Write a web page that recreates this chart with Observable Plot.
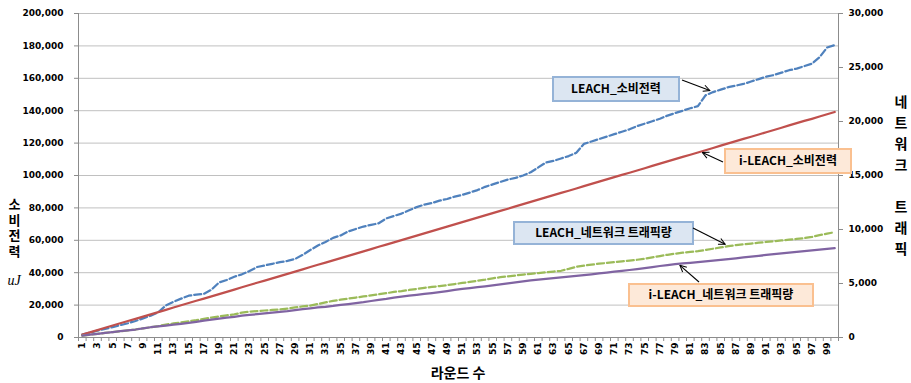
<!DOCTYPE html>
<html><head><meta charset="utf-8">
<script src="https://cdn.jsdelivr.net/npm/d3@7"></script>
<script src="https://cdn.jsdelivr.net/npm/@observablehq/plot@0.6"></script>
<style>
html,body{margin:0;padding:0;background:#fff;}
</style>
</head><body><div id="chart"></div>
<script>
// ---- data ----
const rounds = Array.from({length: 100}, (_, i) => i + 1);
const oddRounds = rounds.filter(r => r % 2 === 1);

const leachPower = [
  1800, 3000, 4200, 5300, 6400, 7600, 8800, 10200, 11800, 13500,
  15500, 19800, 22000, 24000, 25800, 26500, 27000, 29500, 34000, 35500,
  37500, 39000, 41000, 43500, 44500, 45500, 46500, 47300, 48500, 51000,
  54000, 56800, 59000, 61500, 63000, 65500, 67000, 68500, 69500, 70500,
  73500, 75000, 76500, 78500, 80500, 82000, 83000, 84500, 85500, 87000,
  88000, 89500, 91000, 93000, 94500, 96000, 97500, 98500, 100000, 102000,
  105000, 108000, 109000, 110500, 112000, 114000, 119500, 121000, 122500, 124000,
  125500, 127000, 128500, 130500, 132000, 133500, 135000, 137000, 138500, 140000,
  141500, 142800, 149500, 151500, 153000, 154500, 155500, 156500, 158000, 159500,
  161000, 162000, 163500, 165000, 166000, 167500, 169000, 173000, 179000, 180500
];
const iLeachPower = [
  1800, 3200, 4600, 6000, 7400, 8800, 10200, 11500, 12900, 14300,
  15700, 17100, 18500, 19900, 21300, 22700, 24000, 25400, 26800, 28200,
  29600, 31000, 32400, 33800, 35100, 36500, 37900, 39300, 40700, 42100,
  43500, 44900, 46200, 47600, 49000, 50400, 51800, 53200, 54600, 56000,
  57300, 58700, 60100, 61500, 62900, 64300, 65700, 67100, 68400, 69800,
  71200, 72600, 74000, 75400, 76800, 78200, 79500, 80900, 82300, 83700,
  85100, 86500, 87900, 89300, 90600, 92000, 93400, 94800, 96200, 97600,
  99000, 100400, 101700, 103100, 104500, 105900, 107300, 108700, 110100, 111500,
  112800, 114200, 115600, 117000, 118400, 119800, 121200, 122600, 123900, 125300,
  126700, 128100, 129500, 130900, 132300, 133700, 135000, 136400, 137800, 139200
];
const leachTraffic = [
  180, 260, 340, 420, 500, 580, 660, 740, 850, 950,
  1050, 1200, 1300, 1400, 1500, 1600, 1720, 1850, 1950, 2050,
  2150, 2300, 2400, 2450, 2500, 2550, 2600, 2680, 2780, 2880,
  2960, 3100, 3250, 3400, 3500, 3600, 3700, 3800, 3900, 4000,
  4100, 4220, 4300, 4400, 4500, 4600, 4680, 4760, 4850, 4950,
  5050, 5150, 5250, 5350, 5480, 5580, 5660, 5740, 5820, 5890,
  5970, 6040, 6110, 6180, 6350, 6550, 6650, 6750, 6830, 6900,
  6980, 7050, 7120, 7200, 7300, 7420, 7540, 7660, 7760, 7850,
  7930, 8000, 8100, 8220, 8340, 8460, 8550, 8620, 8700, 8780,
  8850, 8920, 8990, 9060, 9130, 9200, 9320, 9480, 9620, 9750
];
const iLeachTraffic = [
  180, 260, 340, 420, 500, 580, 660, 740, 850, 950,
  1030, 1110, 1190, 1270, 1350, 1450, 1560, 1650, 1740, 1830,
  1920, 2020, 2090, 2160, 2230, 2300, 2370, 2440, 2530, 2620,
  2700, 2780, 2840, 2920, 3030, 3100, 3180, 3270, 3380, 3480,
  3580, 3700, 3790, 3870, 3950, 4030, 4110, 4200, 4300, 4400,
  4500, 4580, 4660, 4740, 4830, 4920, 5010, 5100, 5190, 5290,
  5360, 5420, 5490, 5560, 5640, 5710, 5780, 5850, 5930, 6010,
  6090, 6170, 6250, 6340, 6430, 6520, 6620, 6710, 6790, 6860,
  6920, 6980, 7050, 7110, 7180, 7260, 7330, 7410, 7480, 7560,
  7640, 7710, 7780, 7850, 7920, 7990, 8060, 8130, 8200, 8270
];
const leftTicks = [0, 20000, 40000, 60000, 80000, 100000, 120000, 140000, 160000, 180000, 200000];
const rightTicks = [0, 5000, 10000, 15000, 20000, 25000, 30000];

const seriesNames = ["LEACH_소비전력", "i-LEACH_소비전력", "LEACH_네트워크 트래픽량", "i-LEACH_네트워크 트래픽량"];
const xTitle = "라운드 수";
const yLeftTitle = "소비전력";
const yLeftUnit = "uJ";
const yRightTitle = "네트워크 트래픽";

// ---- build ----
const leftMax = d3.max(leftTicks), rightMax = d3.max(rightTicks);
const k = leftMax / rightMax;
const xDomain = [rounds[0] - 0.5, rounds[rounds.length - 1] + 0.5];
const boundaries = rounds.map(r => r - 0.5).concat([xDomain[1]]);

function rows(values, factor) {
  return rounds.map((r, i) => ({round: r, y: values[i] * factor}));
}
const fmt = d3.format(",");

const chart = Plot.plot({
  width: 911, height: 383,
  marginLeft: 78, marginRight: 73, marginTop: 13, marginBottom: 46,
  style: {fontFamily: "DejaVu Sans", fontSize: "9px", fontWeight: "bold", color: "#000", background: "#fff", overflow: "visible"},
  x: {domain: xDomain, label: null},
  y: {domain: [0, leftMax], label: null},
  marks: [
    Plot.gridY(leftTicks, {stroke: "#c0c0c0", strokeOpacity: 1}),
    Plot.ruleX(xDomain, {stroke: "#8c8c8c"}),
    Plot.ruleY([0], {stroke: "#8c8c8c"}),
    Plot.axisX(boundaries, {tickSize: 4, tickFormat: () => "", stroke: "#8c8c8c", label: null}),
    Plot.axisX(oddRounds, {tickSize: 0, tickRotate: -90, tickPadding: 5, tickFormat: d => String(d), label: null}),
    Plot.axisY(leftTicks, {tickSize: 4, tickPadding: 11, tickFormat: fmt, stroke: "#8c8c8c", label: null}),
    Plot.axisY(rightTicks.map(v => v * k), {anchor: "right", tickSize: 4, tickPadding: 6, stroke: "#8c8c8c",
      tickFormat: v => fmt(Math.round(v / k)), label: null}),
    Plot.line(rows(leachPower, 1), {x: "round", y: "y", stroke: "#4f81bd", strokeWidth: 2.25, strokeDasharray: "7,3"}),
    Plot.line(rows(iLeachPower, 1), {x: "round", y: "y", stroke: "#c0504d", strokeWidth: 2.25}),
    Plot.line(rows(leachTraffic, k), {x: "round", y: "y", stroke: "#9bbb59", strokeWidth: 2.25, strokeDasharray: "7,3"}),
    Plot.line(rows(iLeachTraffic, k), {x: "round", y: "y", stroke: "#8064a2", strokeWidth: 2.25})
  ]
});
document.getElementById("chart").appendChild(chart);

// ---- titles & annotations ----
const svg = d3.select(chart);
const xs = chart.scale("x"), ys = chart.scale("y");
const kr = "'Noto Sans CJK KR', 'Noto Sans', sans-serif";

svg.append("text").attr("x", (xs.apply(xDomain[0]) + xs.apply(xDomain[1])) / 2).attr("y", 378)
  .attr("text-anchor", "middle").attr("font-family", kr).attr("font-size", 14).attr("font-weight", "bold")
  .attr("fill", "#000").text(xTitle);

// vertical (top-to-bottom) single text elements
function verticalText(str, x, yTop, size, spacing) {
  svg.append("text").attr("x", x).attr("y", yTop)
    .attr("font-family", kr).attr("font-size", size).attr("font-weight", "bold").attr("fill", "#000")
    .attr("text-anchor", "start")
    .style("writing-mode", "vertical-rl").style("text-orientation", "upright")
    .style("letter-spacing", spacing + "px")
    .text(str);
}
verticalText(yLeftTitle, 14.5, 198, 13, 2.5);
svg.append("text").attr("x", 14).attr("y", 285).attr("text-anchor", "middle")
  .attr("font-family", "'Liberation Serif', serif").attr("font-style", "italic").attr("font-weight", "normal")
  .attr("font-size", 14).attr("fill", "#000").text(yLeftUnit);
verticalText(yRightTitle, 901, 95, 14, 7);

const defs = svg.append("defs");
defs.append("marker").attr("id", "arr").attr("viewBox", "0 0 10 10").attr("refX", 9).attr("refY", 5)
  .attr("markerWidth", 8).attr("markerHeight", 8).attr("markerUnits", "userSpaceOnUse").attr("orient", "auto")
  .append("path").attr("d", "M1,1 L9,5 L1,9").attr("fill", "none").attr("stroke", "#000").attr("stroke-width", 1.3);

const themes = {
  blue: {fill: "#dce6f2", stroke: "#95b3d7"},
  orange: {fill: "#fde9d9", stroke: "#fac090"}
};
const notes = [
  {label: seriesNames[0], values: leachPower, factor: 1, at: 84, box: [553, 77, 126, 24], tail: [682, 80], theme: "blue"},
  {label: seriesNames[1], values: iLeachPower, factor: 1, at: 82.3, box: [725, 149, 126, 24], tail: [723, 162], theme: "orange"},
  {label: seriesNames[2], values: leachTraffic, factor: k, at: 86, box: [514, 222, 179, 22], tail: [693, 228], theme: "blue"},
  {label: seriesNames[3], values: iLeachTraffic, factor: k, at: 79.4, box: [629, 284, 184, 22], tail: [699, 282], theme: "orange"}
];
function valueAt(arr, c) {
  const i = Math.floor(c) - 1, t = c - Math.floor(c);
  const a = arr[i], b = arr[Math.min(i + 1, arr.length - 1)];
  return a + (b - a) * t;
}
notes.forEach(n => {
  const th = themes[n.theme];
  const [bx, by, bw, bh] = n.box;
  const g = svg.append("g");
  g.append("rect").attr("x", bx).attr("y", by).attr("width", bw).attr("height", bh)
    .attr("fill", th.fill).attr("stroke", th.stroke).attr("stroke-width", 2);
  g.append("text").attr("x", bx + bw / 2).attr("y", by + bh / 2).attr("dy", "0.35em")
    .attr("text-anchor", "middle").attr("font-family", kr).attr("font-size", 12).attr("font-weight", "bold")
    .attr("fill", "#000").text(n.label);
  const px = xs.apply(n.at), py = ys.apply(valueAt(n.values, n.at) * n.factor);
  const [tx, ty] = n.tail;
  const dx = px - tx, dy = py - ty, len = Math.hypot(dx, dy), gap = 3;
  g.append("line").attr("x1", tx).attr("y1", ty)
    .attr("x2", px - dx / len * gap).attr("y2", py - dy / len * gap)
    .attr("stroke", "#000").attr("stroke-width", 1.1).attr("marker-end", "url(#arr)");
});
</script>
</body></html>
